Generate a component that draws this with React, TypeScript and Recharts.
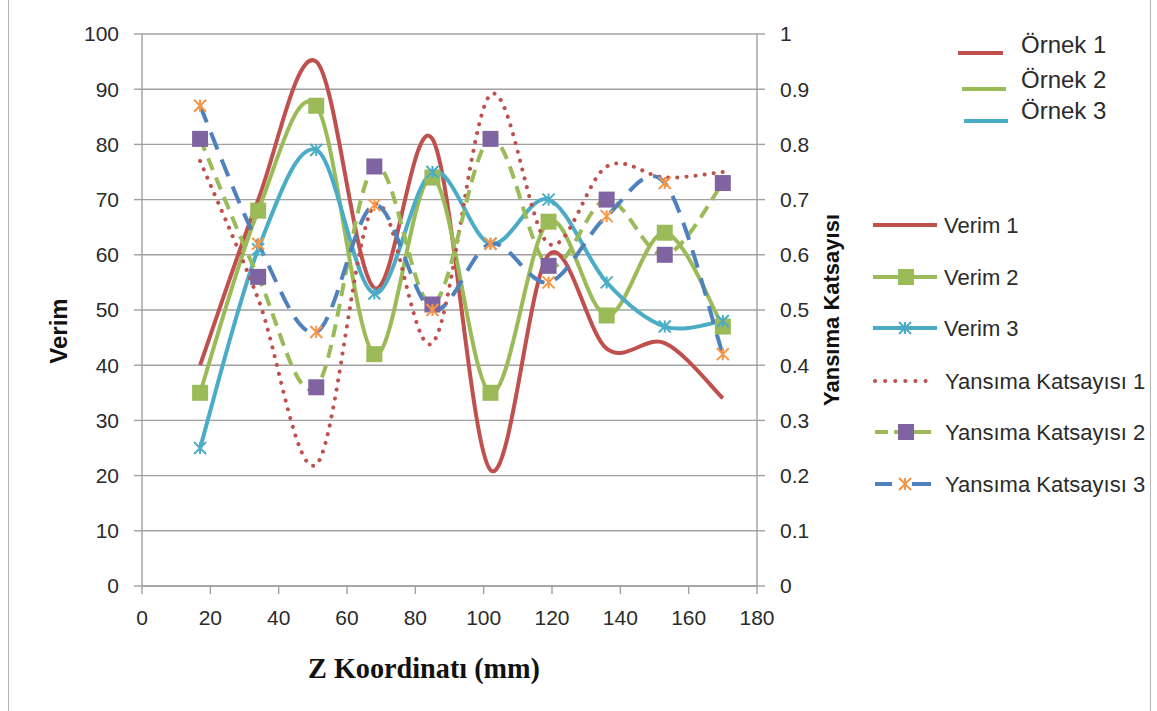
import React from 'react';
import { CartesianGrid, Line, LineChart, XAxis, YAxis } from 'recharts';

// Z coordinate (mm) of each measurement
const zPositions = [17, 34, 51, 68, 85, 102, 119, 136, 153, 170];

// efficiency (left axis)
const verim1 = [40, 70, 95, 54, 81, 21, 60, 43, 44, 34];
const verim2 = [35, 68, 87, 42, 74, 35, 66, 49, 64, 47];
const verim3 = [25, 61, 79, 53, 75, 62, 70, 55, 47, 48];

// reflection coefficient (right axis)
const yansima1 = [0.77, 0.52, 0.22, 0.69, 0.44, 0.89, 0.62, 0.76, 0.74, 0.75];
const yansima2 = [0.81, 0.56, 0.36, 0.76, 0.51, 0.81, 0.58, 0.7, 0.6, 0.73];
const yansima3 = [0.87, 0.62, 0.46, 0.69, 0.5, 0.62, 0.55, 0.67, 0.73, 0.42];

const xTicks = [0, 20, 40, 60, 80, 100, 120, 140, 160, 180];
const leftTicks = [0, 10, 20, 30, 40, 50, 60, 70, 80, 90, 100];
const rightTicks = [0, 0.1, 0.2, 0.3, 0.4, 0.5, 0.6, 0.7, 0.8, 0.9, 1];

const data = zPositions.map((x, i) => ({
    x,
    v1: verim1[i],
    v2: verim2[i],
    v3: verim3[i],
    y1: yansima1[i],
    y2: yansima2[i],
    y3: yansima3[i],
}));

const RED = '#C0504D';
const GREEN = '#9BBB59';
const TEAL = '#4BACC6';
const BLUE = '#4F81BD';
const PURPLE = '#8064A2';
const ORANGE = '#F79646';
const AXIS = '#a0a0a0';
const TEXT = '#2b2b2b';
const FONT = '"Liberation Sans", Arial, sans-serif';

// Excel style smoothed line (catmull-rom through the points)
const excelSmooth = (context: any) => {
    let pts: number[][] = [];
    return {
        areaStart() {},
        areaEnd() {},
        lineStart() {
            pts = [];
        },
        point(x: number, y: number) {
            pts.push([+x, +y]);
        },
        lineEnd() {
            const n = pts.length;
            if (!n) return;
            context.moveTo(pts[0][0], pts[0][1]);
            for (let i = 0; i < n - 1; i++) {
                const p0 = pts[Math.max(i - 1, 0)];
                const p1 = pts[i];
                const p2 = pts[i + 1];
                const p3 = pts[Math.min(i + 2, n - 1)];
                context.bezierCurveTo(
                    p1[0] + (p2[0] - p0[0]) / 6,
                    p1[1] + (p2[1] - p0[1]) / 6,
                    p2[0] - (p3[0] - p1[0]) / 6,
                    p2[1] - (p3[1] - p1[1]) / 6,
                    p2[0],
                    p2[1]
                );
            }
        },
    };
};

const squareDot = (fill: string, size: number) => (props: any) => {
    const { cx, cy, index } = props;
    if (cx == null || cy == null) return <g key={`s-${index}`} />;
    return (
        <rect
            key={`s-${index}`}
            x={cx - size / 2}
            y={cy - size / 2}
            width={size}
            height={size}
            fill={fill}
        />
    );
};

const starPath = (cx: number, cy: number, r: number) =>
    `M${cx - r},${cy - r}L${cx + r},${cy + r}M${cx - r},${cy + r}L${cx + r},${cy - r}M${cx},${cy - r}L${cx},${cy + r}`;

const starDot = (color: string, r: number) => (props: any) => {
    const { cx, cy, index } = props;
    if (cx == null || cy == null) return <g key={`x-${index}`} />;
    return (
        <path
            key={`x-${index}`}
            d={starPath(cx, cy, r)}
            stroke={color}
            strokeWidth={2}
            fill="none"
        />
    );
};

const tickStyle = { fill: TEXT, fontSize: 21, fontFamily: FONT };

function Legends() {
    const topRows = [
        { label: 'Örnek 1', color: RED, x1: 958, x2: 1003, y: 53, ty: 53 },
        { label: 'Örnek 2', color: GREEN, x1: 962, x2: 1006, y: 89, ty: 88 },
        { label: 'Örnek 3', color: TEAL, x1: 964, x2: 1008, y: 121, ty: 119 },
    ];
    const rowY = [225, 277, 328, 381, 432, 484];
    const lx1 = 873;
    const lx2 = 937;
    return (
        <svg
            width={1157}
            height={711}
            style={{ position: 'absolute', left: 0, top: 0, pointerEvents: 'none' }}
            fontFamily={FONT}
        >
            {topRows.map((r) => (
                <g key={r.label}>
                    <line x1={r.x1} x2={r.x2} y1={r.y} y2={r.y} stroke={r.color} strokeWidth={4} />
                    <text x={1021} y={r.ty} fontSize={24} fill={TEXT}>
                        {r.label}
                    </text>
                </g>
            ))}

            {/* Verim 1 */}
            <line x1={lx1} x2={lx2} y1={rowY[0]} y2={rowY[0]} stroke={RED} strokeWidth={4} />
            {/* Verim 2 */}
            <line x1={lx1} x2={lx2} y1={rowY[1]} y2={rowY[1]} stroke={GREEN} strokeWidth={4} />
            <rect x={906 - 8} y={rowY[1] - 8} width={16} height={16} fill={GREEN} />
            {/* Verim 3 */}
            <line x1={lx1} x2={lx2} y1={rowY[2]} y2={rowY[2]} stroke={TEAL} strokeWidth={4} />
            <path d={starPath(905, rowY[2], 6)} stroke={TEAL} strokeWidth={2} fill="none" />
            {/* Yansima 1 */}
            <line
                x1={lx1 + 2}
                x2={lx2 - 4}
                y1={rowY[3]}
                y2={rowY[3]}
                stroke={RED}
                strokeWidth={4}
                strokeDasharray="0.1 10"
                strokeLinecap="round"
            />
            {/* Yansima 2 */}
            <line x1={lx1 + 2} x2={888} y1={rowY[4]} y2={rowY[4]} stroke={GREEN} strokeWidth={4} />
            <line x1={894} x2={lx2 - 6} y1={rowY[4]} y2={rowY[4]} stroke={GREEN} strokeWidth={4} />
            <rect x={906 - 8} y={rowY[4] - 8} width={16} height={16} fill={PURPLE} />
            {/* Yansima 3 */}
            <line x1={lx1 + 2} x2={892} y1={rowY[5]} y2={rowY[5]} stroke={BLUE} strokeWidth={4} />
            <line x1={912} x2={lx2 - 6} y1={rowY[5]} y2={rowY[5]} stroke={BLUE} strokeWidth={4} />
            <path d={starPath(905, rowY[5], 6)} stroke={ORANGE} strokeWidth={2} fill="none" />

            {['Verim 1', 'Verim 2', 'Verim 3', 'Yansıma Katsayısı 1', 'Yansıma Katsayısı 2', 'Yansıma Katsayısı 3'].map(
                (label, i) => (
                    <text key={label} x={i < 3 ? 944 : 945} y={rowY[i] + 8} fontSize={22} fill={TEXT}>
                        {label}
                    </text>
                )
            )}

            {/* axis titles */}
            <text
                transform="translate(67, 331) rotate(-90)"
                textAnchor="middle"
                fontSize={24}
                fontWeight="bold"
                fill="#111"
            >
                Verim
            </text>
            <text
                transform="translate(839, 310) rotate(-90)"
                textAnchor="middle"
                fontSize={22}
                fontWeight="bold"
                fill="#111"
            >
                Yansıma Katsayısı
            </text>
            <text
                x={308}
                y={678}
                fontSize={30}
                fontWeight="bold"
                fontFamily='"Liberation Serif", "Times New Roman", serif'
                textLength={232}
                lengthAdjust="spacingAndGlyphs"
                fill="#111"
            >
                Z Koordinatı (mm)
            </text>
        </svg>
    );
}

export default function App() {
    return (
        <div
            style={{
                position: 'absolute',
                left: 0,
                top: 0,
                width: 1157,
                height: 711,
                background: '#fff',
                overflow: 'hidden',
            }}
        >
            <div
                style={{
                    position: 'absolute',
                    left: 8,
                    top: -5,
                    width: 1141,
                    height: 730,
                    border: '1px solid #b4b4b4',
                }}
            />
            <LineChart
                width={1157}
                height={711}
                data={data}
                margin={{ top: 34, right: 300, left: 0, bottom: 65 }}
            >
                <CartesianGrid
                    yAxisId="left"
                    vertical={false}
                    stroke={AXIS}
                    strokeWidth={1.4}
                />
                <XAxis
                    dataKey="x"
                    type="number"
                    domain={[0, 180]}
                    ticks={xTicks}
                    height={60}
                    tickSize={8}
                    tickMargin={16}
                    stroke={AXIS}
                    strokeWidth={1.4}
                    tick={tickStyle}
                    interval={0}
                />
                <YAxis
                    yAxisId="left"
                    domain={[0, 100]}
                    ticks={leftTicks}
                    width={142}
                    tickSize={8}
                    tickMargin={15}
                    stroke={AXIS}
                    strokeWidth={1.4}
                    tick={tickStyle}
                    interval={0}
                />
                <YAxis
                    yAxisId="right"
                    orientation="right"
                    domain={[0, 1]}
                    ticks={rightTicks}
                    width={100}
                    tickSize={8}
                    tickMargin={15}
                    stroke={AXIS}
                    strokeWidth={1.4}
                    tick={tickStyle}
                    interval={0}
                    tickFormatter={(v: number) => String(v)}
                />

                <Line
                    yAxisId="left"
                    dataKey="v1"
                    type={excelSmooth as any}
                    stroke={RED}
                    strokeWidth={4}
                    dot={false}
                    isAnimationActive={false}
                />
                <Line
                    yAxisId="left"
                    dataKey="v2"
                    type={excelSmooth as any}
                    stroke={GREEN}
                    strokeWidth={4}
                    dot={squareDot(GREEN, 16)}
                    isAnimationActive={false}
                />
                <Line
                    yAxisId="left"
                    dataKey="v3"
                    type={excelSmooth as any}
                    stroke={TEAL}
                    strokeWidth={4}
                    dot={starDot(TEAL, 6)}
                    isAnimationActive={false}
                />
                <Line
                    yAxisId="right"
                    dataKey="y1"
                    type={excelSmooth as any}
                    stroke={RED}
                    strokeWidth={4}
                    strokeDasharray="0.1 9"
                    strokeLinecap="round"
                    dot={false}
                    isAnimationActive={false}
                />
                <Line
                    yAxisId="right"
                    dataKey="y2"
                    type={excelSmooth as any}
                    stroke={GREEN}
                    strokeWidth={4}
                    strokeDasharray="13 8"
                    dot={squareDot(PURPLE, 16)}
                    isAnimationActive={false}
                />
                <Line
                    yAxisId="right"
                    dataKey="y3"
                    type={excelSmooth as any}
                    stroke={BLUE}
                    strokeWidth={4}
                    strokeDasharray="18 11"
                    dot={starDot(ORANGE, 6)}
                    isAnimationActive={false}
                />
            </LineChart>
            <Legends />
        </div>
    );
}
